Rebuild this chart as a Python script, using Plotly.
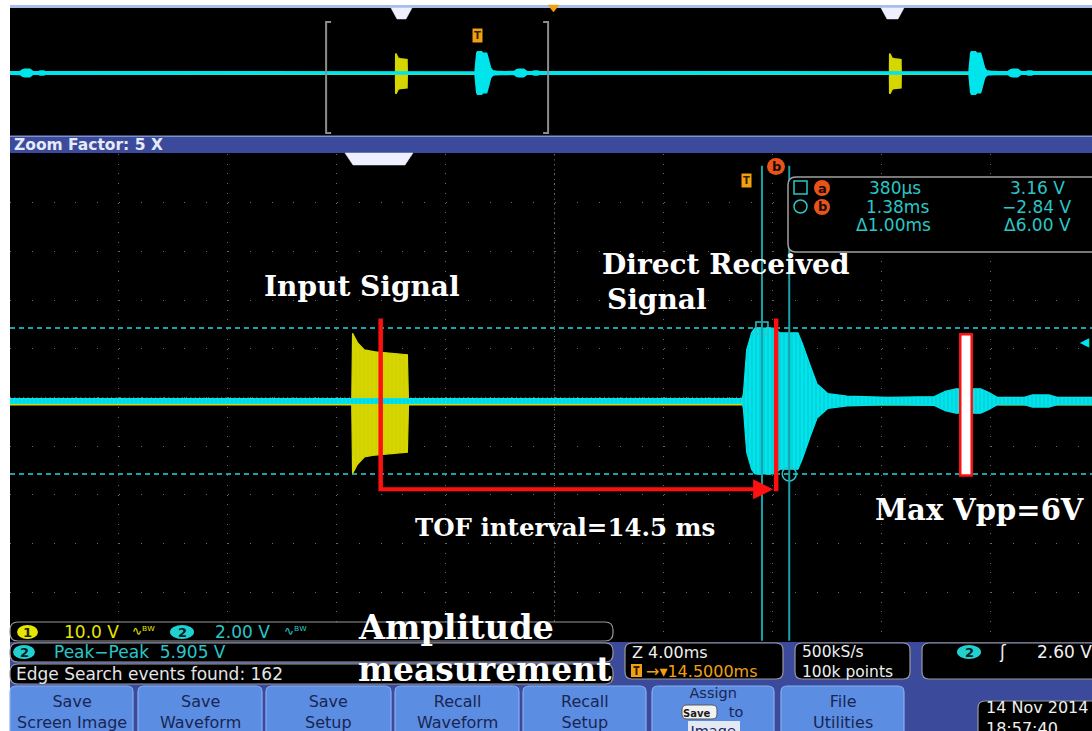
import numpy as np
import plotly.graph_objects as go

W, H = 1092, 731

# ---------------- data ----------------
# Channel 2 (cyan, received signal): envelope half-amplitude in V, time in ms rel. to trigger
ch2_env_t_ms = [-27.3, -0.35, -0.30, -0.18, 0.00, 0.12, 0.80, 1.05, 1.70, 1.85,
                2.15, 2.40, 2.80, 3.50, 5.00, 6.70, 7.10, 7.50, 8.40, 8.70,
                9.00, 10.00, 10.30, 10.90, 11.20, 12.60, 61.70]
ch2_env_v = [0.10, 0.10, 0.30, 2.10, 2.80, 3.00, 3.00, 2.80, 2.80, 2.40,
             1.45, 0.70, 0.30, 0.20, 0.15, 0.18, 0.40, 0.50, 0.50, 0.35,
             0.15, 0.15, 0.25, 0.25, 0.15, 0.15, 0.10]
# Channel 1 (yellow, input signal): envelope half-amplitude in ch1 volts
ch1_env_t_ms = [-27.3, -14.66, -14.63, -14.45, -14.20, -13.80, -12.62, -12.58, 61.70]
ch1_env_v = [0.3, 0.3, 14.4, 12.5, 11.0, 10.6, 10.0, 0.3, 0.3]

ch1_volts_per_div = 10.0
ch2_volts_per_div = 2.0
ch2_offset_v = 0.16
ch1_offset_v = 0.06          # expressed in ch2 screen volts
burst_period_ms = 89.0
main_ms_per_div = 4.0
zoom_factor = 5
h_position_ms = 14.5

cursor_t_ms = [0.38, 1.38]
cursor_v = [3.16, -2.84]
trig_level_v = 2.60
tof_marks_ms = [-13.6, 0.9]
red_line_v = [3.55, -3.55]
tof_arrow_v = -3.47
vpp_bar_ms = 7.86
vpp_bar_v = [2.9, -2.9]
peak_peak_v = 5.905
edge_events = 162

button_labels = [["Save", "Screen Image"], ["Save", "Waveform"], ["Save", "Setup"],
                 ["Recall", "Waveform"], ["Recall", "Setup"], ["Assign", "to", "Image"],
                 ["File", "Utilities"]]

# ---------------- geometry (pixels) ----------------
PX_PER_MS = 109.1 / main_ms_per_div
TRIG_PX = 751.6
GRAT_TOP, GRAT_BOT = 154.0, 640.7
ZERO_PX = 404.9
PX_PER_V = 48.67 / ch2_volts_per_div

OV_TRIG_PX, OV_PX_PER_MS = 477.0, 5.55
OV_TOP, OV_BOT = 8.0, 135.0
OV_ZERO_PX, OV_PX_PER_V = 74.1, 7.0

def X(px): return px / W
def Y(py): return 1 - py / H

CY = '#00e4ec'
YE = '#d6d600'
CYTXT = '#2ac6c6'
CURS = '#1aa2aa'
UIBLUE = '#3b4a9a'
BTN = '#5b8de2'
ORANGE = '#f0a010'
REDM = '#e8531c'
RED = '#ff1010'
UIFONT = 'DejaVu Sans'
SERIF = 'DejaVu Serif'
UI_SIZE = 17
BTN_TXT = '#1a2552'

main_xr = [(10 - TRIG_PX) / PX_PER_MS, (W - TRIG_PX) / PX_PER_MS]
main_yr = [-(GRAT_BOT - ZERO_PX) / PX_PER_V, (ZERO_PX - GRAT_TOP) / PX_PER_V]
grid_x0 = (8.9 - TRIG_PX) / PX_PER_MS
grid_y0 = (ZERO_PX - (GRAT_TOP + GRAT_BOT) / 2) / PX_PER_V
ov_xr = [(10 - OV_TRIG_PX) / OV_PX_PER_MS, (W - OV_TRIG_PX) / OV_PX_PER_MS]
ov_yr = [-(OV_BOT - OV_ZERO_PX) / OV_PX_PER_V, (OV_ZERO_PX - OV_TOP) / OV_PX_PER_V]

fig = go.Figure()

def envelope(t, a, scale, off, color, xa, ya, lw, pattern=None):
    t = np.asarray(t, float)
    a = np.asarray(a, float) * scale
    fig.add_trace(go.Scatter(x=t, y=off + a, mode='lines', line=dict(color=color, width=lw),
                             xaxis=xa, yaxis=ya, hoverinfo='skip', showlegend=False))
    kw = dict(fillpattern=pattern) if pattern else {}
    fig.add_trace(go.Scatter(x=t, y=off - a, mode='lines', line=dict(color=color, width=lw),
                             fill='tonexty', fillcolor=color, xaxis=xa, yaxis=ya,
                             hoverinfo='skip', showlegend=False, **kw))

ch1_scale = ch2_volts_per_div / ch1_volts_per_div
# main (zoomed) window
envelope(ch1_env_t_ms, ch1_env_v, ch1_scale, ch1_offset_v, YE, 'x', 'y', 1.2,
         dict(shape='|', fgcolor='#bcbc00', bgcolor=YE, size=4, solidity=0.15))
envelope(ch2_env_t_ms, ch2_env_v, 1.0, ch2_offset_v, CY, 'x', 'y', 1.2,
         dict(shape='|', fgcolor='#0a9ca4', bgcolor=CY, size=4, solidity=0.2))

# overview: the same acquisition repeats with the burst period
def periodic(t):
    t = np.asarray(t, float)
    return np.concatenate([t + k * burst_period_ms for k in (-1, 0, 1)])

envelope(periodic(ch1_env_t_ms), np.tile(ch1_env_v, 3), ch1_scale, ch1_offset_v, YE, 'x2', 'y2', 1.6)
envelope(periodic(ch2_env_t_ms), np.tile(ch2_env_v, 3), 1.0, ch2_offset_v, CY, 'x2', 'y2', 2.0)

# cursor intersection markers
fig.add_trace(go.Scatter(x=[cursor_t_ms[0]], y=[cursor_v[0]], mode='markers',
                         marker=dict(symbol='square-open', size=12, color=CYTXT, line=dict(width=1.5, color=CYTXT)),
                         xaxis='x', yaxis='y', hoverinfo='skip', showlegend=False))
fig.add_trace(go.Scatter(x=[cursor_t_ms[1]], y=[cursor_v[1]], mode='markers',
                         marker=dict(symbol='circle-open', size=14, color=CYTXT, line=dict(width=1.5, color=CYTXT)),
                         xaxis='x', yaxis='y', hoverinfo='skip', showlegend=False))

shapes = []
annotations = []

def rect(x0, y0, x1, y1, fill, line=None, lw=0, layer='below'):
    shapes.append(dict(type='rect', xref='paper', yref='paper', x0=X(x0), x1=X(x1), y0=Y(y1), y1=Y(y0),
                       fillcolor=fill, line=dict(color=line or fill, width=lw), layer=layer))

def seg(x0, y0, x1, y1, color, lw, layer='above'):
    shapes.append(dict(type='line', xref='paper', yref='paper', x0=X(x0), x1=X(x1), y0=Y(y0), y1=Y(y1),
                       line=dict(color=color, width=lw), layer=layer))

def P(x, y): return f"{X(x):.5f},{Y(y):.5f}"

def rrect(x0, y0, x1, y1, r, fill, line, lw=1.2, top_only=False, layer='above'):
    if top_only:
        d = (f"M{P(x0, y1)} L{P(x0, y0 + r)} Q{P(x0, y0)} {P(x0 + r, y0)} L{P(x1 - r, y0)} "
             f"Q{P(x1, y0)} {P(x1, y0 + r)} L{P(x1, y1)} Z")
    else:
        d = (f"M{P(x0 + r, y0)} L{P(x1 - r, y0)} Q{P(x1, y0)} {P(x1, y0 + r)} L{P(x1, y1 - r)} "
             f"Q{P(x1, y1)} {P(x1 - r, y1)} L{P(x0 + r, y1)} Q{P(x0, y1)} {P(x0, y1 - r)} "
             f"L{P(x0, y0 + r)} Q{P(x0, y0)} {P(x0 + r, y0)} Z")
    shapes.append(dict(type='path', xref='paper', yref='paper', path=d, fillcolor=fill,
                       line=dict(color=line, width=lw), layer=layer))

def poly(pts, fill, layer='above'):
    d = "M" + " L".join(P(x, y) for x, y in pts) + " Z"
    shapes.append(dict(type='path', xref='paper', yref='paper', path=d, fillcolor=fill,
                       line=dict(color=fill, width=0.5), layer=layer))

def circ(x0, y0, x1, y1, fill, line=None, lw=0, layer='above'):
    shapes.append(dict(type='circle', xref='paper', yref='paper', x0=X(x0), x1=X(x1), y0=Y(y1), y1=Y(y0),
                       fillcolor=fill, line=dict(color=line or fill, width=lw), layer=layer))

def txt(x, y, s, size=UI_SIZE, color='white', family=UIFONT, xanchor='center', **kw):
    annotations.append(dict(x=X(x), y=Y(y), xref='paper', yref='paper', text=s, showarrow=False,
                            font=dict(size=size, color=color, family=family), xanchor=xanchor,
                            yanchor='middle', **kw))

# ---- backgrounds ----
rect(10, 5, W, 8, '#a9bde9')
rect(10, 8, W, 136, '#000000')
rect(10, 136, W, 153, UIBLUE)
rect(10, 135.5, W, 137, '#7f92d0')
rect(10, 153, W, 642, '#000000')
rect(10, 642, W, H, UIBLUE)
# centre cross of graticule (dense ticks)
shapes.append(dict(type='line', xref='paper', yref='paper', x0=X(554.5), x1=X(554.5), y0=Y(GRAT_BOT), y1=Y(GRAT_TOP),
                   line=dict(color='#75755f', width=1, dash='1px,3.9px'), layer='below'))
shapes.append(dict(type='line', xref='paper', yref='paper', x0=X(10), x1=X(W), y0=Y(397.35), y1=Y(397.35),
                   line=dict(color='#75755f', width=1, dash='1px,3.4px'), layer='below'))

# ---- overview decorations ----
poly([(391, 8), (412, 8), (406, 19), (397, 19)], '#eef0ff')
poly([(881, 8), (904, 8), (898, 19), (887, 19)], '#eef0ff')
poly([(548, 5), (559, 5), (553.5, 12)], ORANGE)
bl, br = main_xr[0], main_xr[0] + 10 * main_ms_per_div
stub = 5 / OV_PX_PER_MS
for xa, xb in ((bl + stub, bl), (br - stub, br)):
    shapes.append(dict(type='path', xref='x2', yref='paper',
                       path=f"M{xa},{Y(22)} L{xb},{Y(22)} L{xb},{Y(133)} L{xa},{Y(133)}",
                       line=dict(color='#8c8c8c', width=2), layer='above'))
annotations.append(dict(x=0, y=Y(28), xref='x2', yref='paper', text='<b>T</b>', showarrow=False,
                        font=dict(size=10, color='#3a2000', family=UIFONT), bgcolor=ORANGE, borderpad=1))
txt(12, 145, f"<b>Zoom Factor: {zoom_factor} X</b>", size=15.5, color='#e6eaf8', xanchor='left')

# ---- main panel decorations ----
poly([(345, 153), (413, 153), (405, 165), (353, 165)], '#eef0ff')
annotations.append(dict(x=0, y=Y(173), xref='x', yref='paper', text='<b>T</b>', showarrow=False,
                        font=dict(size=10, color='#3a2000', family=UIFONT), bgcolor=ORANGE, borderpad=1,
                        xanchor='right'))
circ(767, 158, 785, 175, REDM)
txt(776, 166.5, '<b>b</b>', size=13, color='#1a0a00')

# cursors
for t in cursor_t_ms:
    shapes.append(dict(type='line', xref='x', yref='y domain', x0=t, x1=t, y0=0, y1=0.976,
                       line=dict(color=CURS, width=2), layer='above'))
for v in cursor_v:
    shapes.append(dict(type='line', xref='x domain', yref='y', x0=0, x1=1, y0=v, y1=v,
                       line=dict(color=CURS, width=2, dash='5px,4px'), layer='below'))
annotations.append(dict(x=1, y=trig_level_v, xref='x domain', yref='y', text='◀', showarrow=False,
                        font=dict(size=12, color=CY, family=UIFONT), xanchor='right', yanchor='middle'))

# red annotations drawn by the author
for t in tof_marks_ms:
    shapes.append(dict(type='line', xref='x', yref='y', x0=t, x1=t, y0=red_line_v[0], y1=red_line_v[1],
                       line=dict(color=RED, width=4.5), layer='above'))
annotations.append(dict(x=tof_marks_ms[1], y=tof_arrow_v, xref='x', yref='y', ax=tof_marks_ms[0], ay=tof_arrow_v,
                        axref='x', ayref='y', text='', showarrow=True, arrowhead=2, arrowsize=1,
                        arrowwidth=4, arrowcolor=RED, standoff=3, arrowside='end'))
shapes.append(dict(type='rect', xref='x', yref='y', x0=vpp_bar_ms - 0.21, x1=vpp_bar_ms + 0.21,
                   y0=vpp_bar_v[1], y1=vpp_bar_v[0], fillcolor='white', line=dict(color=RED, width=2.5),
                   layer='above'))

# cursor readout box
rrect(788, 177, 1110, 252, 8, '#000000', '#a0a0a0', 1.5)
rect(794, 181, 807, 194, 'rgba(0,0,0,0)', CYTXT, 1.5, layer='above')
circ(794, 200, 807, 213, 'rgba(0,0,0,0)', CYTXT, 1.5)
circ(814, 180, 830, 196, REDM)
circ(814, 199, 830, 215, REDM)
txt(822, 188, '<b>a</b>', size=13, color='#1a0a00')
txt(822, 207, '<b>b</b>', size=13, color='#1a0a00')
dt = cursor_t_ms[1] - cursor_t_ms[0]
dv = cursor_v[0] - cursor_v[1]
txt(895, 188, f"{cursor_t_ms[0] * 1000:.0f}µs", color=CYTXT)
txt(897, 207, f"{cursor_t_ms[1]:.2f}ms", color=CYTXT)
txt(893, 225, f"Δ{dt:.2f}ms", color=CYTXT)
txt(1037, 188, f"{cursor_v[0]:.2f} V", color=CYTXT)
txt(1037, 207, f"−{abs(cursor_v[1]):.2f} V", color=CYTXT)
txt(1037, 225, f"Δ{dv:.2f} V", color=CYTXT)

# big annotation texts
txt(362, 287, "<b>Input Signal</b>", size=28, family=SERIF)
txt(725, 264, "<b>Direct Received</b>", size=28, family=SERIF)
txt(657, 299, "<b>Signal</b>", size=28, family=SERIF)
txt(565, 527, f"<b>TOF interval={tof_marks_ms[1] - tof_marks_ms[0]:.1f} ms</b>", size=24.5, family=SERIF)
txt(979, 510, "<b>Max Vpp=6V</b>", size=29, family=SERIF)

# ---- bottom status area ----
rrect(10, 622, 613, 641, 8, '#000000', '#9a9a9a')
rrect(10, 643, 613, 662, 8, '#000000', '#9a9a9a')
rrect(10, 664, 613, 684, 8, '#000000', '#9a9a9a')
circ(17, 625, 38, 639, '#e6e600')
txt(27.5, 632, '<b>1</b>', size=13, color='#202000')
txt(62, 632, f"{ch1_volts_per_div:.1f} V", color='#e6e600', xanchor='left')
txt(130, 631, "∿ᴮᵂ", size=12, color='#e6e600', xanchor='left')
circ(170, 625, 194, 639, '#22d0d0')
txt(182, 632, '<b>2</b>', size=13, color='#002020')
txt(213, 632, f"{ch2_volts_per_div:.2f} V", color=CYTXT, xanchor='left')
txt(282, 631, "∿ᴮᵂ", size=12, color=CYTXT, xanchor='left')
circ(13, 645, 35, 659, '#22d0d0')
txt(24, 652, '<b>2</b>', size=13, color='#002020')
txt(52, 652, f"Peak−Peak  {peak_peak_v:.3f} V", color=CYTXT, xanchor='left')
txt(14, 674, f"Edge Search events found: {edge_events}", color='#e4e4e4', xanchor='left')

txt(356, 627, "<b>Amplitude</b>", size=33.5, family=SERIF, xanchor='left')
txt(356, 669, "<b>measurement</b>", size=33, family=SERIF, xanchor='left')

# horizontal readout box (T marker drawn as shapes)
rrect(625, 643, 783, 679, 7, '#000000', '#9a9a9a')
txt(630, 652, f"Z {main_ms_per_div:.2f}ms", size=16, color='#f0f0f0', xanchor='left')
rect(631, 664, 642, 677, ORANGE, layer='above')
seg(633.5, 667, 639.5, 667, '#3a2000', 2)
seg(636.5, 667, 636.5, 675, '#3a2000', 2)
txt(644, 671, f"→▾{h_position_ms:.4f}ms", size=16, color=ORANGE, xanchor='left')
rrect(795, 643, 910, 679, 7, '#000000', '#9a9a9a')
txt(800, 661.5, "500kS/s<br>100k points", size=15.5, color='#f0f0f0', xanchor='left', align='left')
rrect(922, 643, 1110, 679, 7, '#000000', '#9a9a9a')
circ(957, 645, 981, 659, '#22d0d0')
txt(969, 652, '<b>2</b>', size=13, color='#002020')
txt(1003, 652, "ʃ", color='#f0f0f0')
txt(1035, 652, f"{trig_level_v:.2f} V", color='#f0f0f0', xanchor='left')

# soft-key buttons
btn_x = [(10, 133), (138, 262), (266, 391), (395, 519), (523, 646), (652, 774), (781, 904)]
for (x0, x1), lab in zip(btn_x, button_labels):
    rrect(x0, 686, x1, 745, 6, BTN, '#8aaef0', 1.2, top_only=True)
    cx = (x0 + x1) / 2
    if len(lab) == 2:
        txt(cx, 711.5, "<br>".join(lab), size=16, color=BTN_TXT)
    else:
        rect(688, 721, 740, 740, '#e2e8f4', layer='above')
        rrect(682, 705, 717, 719, 5, '#f2f2f2', '#5a5a5a', 1)
        line2 = ("<span style='font-size:10px;color:#1a1a1a'><b>Save</b></span>"
                 + "\u00a0" * 4 + lab[1])
        txt(cx, 712, lab[0] + "<br>" + line2 + "<br>" + lab[2], size=14.5, color=BTN_TXT)

rrect(978, 701, 1110, 745, 7, '#000000', '#9a9a9a')
txt(984, 718, "14 Nov 2014<br>18:57:40", size=16, color='#f0f0f0', xanchor='left', align='left')

fig.update_layout(
    width=W, height=H, margin=dict(l=0, r=0, t=0, b=0),
    paper_bgcolor='white', plot_bgcolor='rgba(0,0,0,0)', showlegend=False,
    shapes=shapes, annotations=annotations,
    xaxis=dict(domain=[X(10), 1], range=main_xr, anchor='y', showgrid=True, gridcolor='#6a6a58', gridwidth=1,
               griddash='1px,8.73px', tick0=grid_x0, dtick=main_ms_per_div, showticklabels=False, ticks='',
               zeroline=False, showline=False, fixedrange=True),
    yaxis=dict(domain=[Y(GRAT_BOT), Y(GRAT_TOP)], range=main_yr, anchor='x', showgrid=True, gridcolor='#6a6a58',
               gridwidth=1, griddash='1px,20.8px', tick0=grid_y0, dtick=ch2_volts_per_div,
               showticklabels=False, ticks='', zeroline=False, showline=False, fixedrange=True),
    xaxis2=dict(domain=[X(10), 1], range=ov_xr, anchor='y2', visible=False, fixedrange=True),
    yaxis2=dict(domain=[Y(OV_BOT), Y(OV_TOP)], range=ov_yr, anchor='x2', visible=False, fixedrange=True),
)

fig.write_html("out.html", config={'displayModeBar': False},
               post_script="document.body.style.margin='0';")
